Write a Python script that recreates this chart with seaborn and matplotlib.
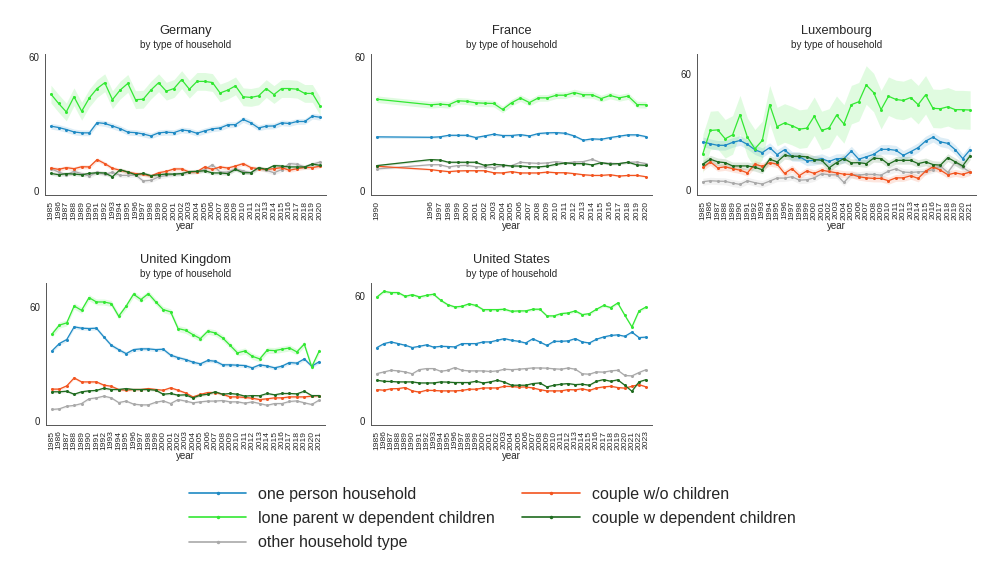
import numpy as np
import pandas as pd
import matplotlib
matplotlib.use('Agg')
import matplotlib.pyplot as plt
from matplotlib.lines import Line2D
import seaborn as sns

# ── Data (share of households, %) ─────────────────────────────
TYPES = ['one person household', 'lone parent w dependent children',
         'other household type', 'couple w/o children',
         'couple w dependent children']
COLORS = ['#1f8ac4', '#33e833', '#a9a9a9', '#f2541f', '#1f6b1f']

DE_YEARS = list(range(1985, 2021))
DE_ONE = [29.1, 28.5, 27.6, 26.5, 26.1, 26.1, 30.7, 30.3, 29.2, 28.0, 26.4, 26.2,
          25.6, 24.7, 26.1, 26.4, 26.2, 27.4, 27.0, 25.9, 27.0, 27.9, 28.3, 29.7,
          29.8, 32.1, 30.6, 28.3, 29.1, 29.2, 30.6, 30.3, 31.2, 31.2, 33.6, 33.1]
DE_LONE = [43.5, 39.3, 35.5, 42.3, 35.8, 41.8, 46.0, 48.6, 41.0, 45.3, 48.3, 41.0,
           41.2, 45.3, 48.6, 44.8, 46.0, 50.0, 45.7, 49.2, 49.2, 48.7, 44.0, 45.3,
           47.2, 42.3, 42.0, 42.7, 46.0, 43.3, 46.0, 46.0, 45.7, 43.8, 43.8, 38.1]
DE_OTHER = [10.0, 8.5, 7.3, 8.8, 7.8, 6.7, 8.5, 7.5, 8.4, 7.0, 7.0, 7.2,
            4.5, 4.8, 6.3, 7.0, 7.5, 7.8, 8.5, 8.8, 9.6, 11.8, 8.5, 8.5,
            10.0, 9.0, 8.2, 10.3, 9.3, 8.2, 9.6, 12.3, 12.0, 10.8, 12.0, 13.0]
DE_NOCH = [10.3, 9.7, 10.5, 10.0, 10.9, 10.8, 14.1, 12.3, 10.2, 9.3, 8.5, 7.8,
           7.5, 6.7, 8.2, 8.8, 9.9, 9.9, 8.5, 8.7, 10.8, 9.7, 10.8, 10.3,
           11.2, 12.3, 10.5, 10.0, 9.7, 10.0, 10.5, 9.3, 10.0, 10.6, 10.5, 11.1]
DE_WCH = [7.9, 7.3, 7.8, 7.6, 7.3, 7.9, 8.2, 8.1, 6.4, 9.6, 8.5, 7.3,
          7.9, 6.9, 7.3, 7.6, 7.6, 7.8, 8.7, 8.8, 9.1, 8.1, 8.1, 7.8,
          9.7, 8.2, 8.2, 10.5, 9.7, 11.4, 11.2, 10.8, 10.8, 10.8, 12.1, 11.5]
DE_CI = [1.3, 4.0, 1.0, 0.9, 0.8]

FR_YEARS = [1990] + list(range(1996, 2021))
FR_ONE = [24.3, 24.1, 24.3, 25.0, 25.0, 25.0, 24.0, 24.7, 25.5, 24.9, 24.9, 25.3,
          24.7, 25.8, 26.1, 26.2, 25.9, 24.7, 22.8, 23.4, 23.2, 24.0, 24.6, 25.2,
          25.2, 24.4]
FR_LONE = [41.2, 38.7, 39.0, 38.7, 40.5, 40.3, 39.6, 39.4, 39.3, 36.6, 39.6, 41.7,
           39.7, 41.8, 41.8, 43.0, 43.0, 44.2, 43.2, 43.2, 41.5, 42.9, 41.8, 42.6,
           38.8, 38.7]
FR_OTHER = [9.9, 11.8, 11.8, 10.8, 11.4, 11.5, 10.9, 10.8, 10.5, 11.4, 11.4, 12.9,
            12.6, 12.4, 12.6, 13.2, 12.6, 13.0, 13.2, 14.2, 12.7, 12.4, 12.3, 12.9,
            13.0, 12.3]
FR_NOCH = [11.1, 9.6, 9.1, 8.7, 9.0, 9.1, 9.1, 9.1, 8.2, 8.1, 8.7, 8.1,
           8.1, 8.1, 8.5, 8.2, 8.2, 7.8, 7.3, 7.0, 7.0, 7.3, 6.7, 7.0,
           7.0, 6.4]
FR_WCH = [11.4, 14.1, 13.9, 12.9, 12.9, 12.9, 12.9, 11.5, 12.0, 11.7, 11.2, 11.2,
          10.9, 10.8, 11.2, 12.0, 12.6, 12.3, 12.3, 11.7, 12.7, 12.1, 12.3, 12.9,
          11.7, 11.5]
FR_CI = [0.6, 1.5, 0.5, 0.4, 0.5]

LU_YEARS = list(range(1985, 2022))
LU_ONE = [25.0, 24.0, 23.2, 23.2, 24.7, 25.7, 23.7, 20.9, 19.4, 22.0, 18.4, 20.9,
          17.5, 17.3, 15.1, 15.4, 16.3, 14.8, 16.3, 16.3, 20.2, 16.0, 17.2, 18.5,
          21.1, 21.1, 20.6, 18.0, 19.9, 22.0, 25.4, 27.4, 25.0, 24.2, 20.9, 16.3,
          20.9]
LU_LONE = [18.9, 30.9, 31.2, 26.6, 28.6, 39.1, 27.4, 21.4, 25.7, 44.3, 32.9, 34.8,
           33.4, 31.6, 32.1, 38.3, 30.9, 32.2, 38.8, 34.3, 44.3, 45.8, 54.5, 50.6,
           41.7, 48.7, 47.0, 46.5, 48.0, 44.3, 49.4, 42.4, 42.2, 43.2, 41.7, 41.7,
           41.5]
LU_OTHER = [4.3, 4.8, 4.6, 4.5, 3.6, 2.9, 4.8, 3.8, 3.1, 4.6, 6.2, 6.2,
            6.9, 5.1, 5.3, 6.3, 8.4, 7.9, 7.9, 3.9, 8.1, 7.7, 8.2, 8.1,
            7.7, 9.8, 11.0, 9.3, 9.1, 9.4, 9.6, 10.6, 12.5, 9.1, 14.4, 11.7,
            9.3]
LU_NOCH = [11.7, 14.6, 11.5, 12.0, 11.1, 10.3, 8.9, 13.4, 12.3, 14.2, 13.4, 8.6,
           11.1, 7.5, 9.9, 8.6, 10.3, 9.6, 8.9, 8.2, 8.1, 6.9, 6.3, 6.0,
           6.0, 4.8, 6.3, 6.3, 7.4, 6.0, 9.8, 12.0, 10.3, 7.9, 8.9, 8.1,
           9.4]
LU_WCH = [13.4, 16.0, 14.6, 14.2, 12.5, 12.5, 12.5, 11.8, 10.5, 16.0, 14.6, 18.0,
          17.5, 17.5, 17.2, 15.8, 15.4, 11.5, 14.2, 16.3, 14.1, 14.2, 13.7, 16.5,
          16.3, 13.4, 15.4, 15.4, 15.4, 13.7, 14.6, 13.2, 12.9, 16.8, 14.6, 12.5,
          17.7]
LU_CI = [2.5, 10.0, 1.8, 1.8, 2.0]

UK_YEARS = list(range(1985, 2022))
UK_ONE = [36.8, 40.7, 42.8, 49.5, 48.8, 48.6, 48.8, 44.2, 39.8, 37.5, 35.4, 37.5,
          37.9, 37.9, 37.5, 37.7, 34.6, 33.3, 32.3, 30.9, 30.0, 31.8, 31.4, 29.5,
          29.5, 29.3, 29.1, 27.9, 29.5, 28.9, 27.9, 28.8, 30.7, 30.4, 32.6, 28.8,
          31.1]
UK_LONE = [45.6, 50.4, 51.6, 60.5, 58.2, 64.9, 62.6, 62.6, 61.8, 55.1, 60.4, 66.7,
           63.9, 67.0, 62.6, 58.6, 57.4, 48.6, 47.7, 45.4, 43.3, 47.2, 46.3, 43.7,
           39.8, 35.8, 36.8, 34.0, 32.6, 37.2, 37.0, 37.7, 38.4, 36.3, 40.4, 28.4,
           36.7]
UK_OTHER = [6.0, 6.3, 7.7, 8.1, 9.1, 11.6, 12.1, 13.0, 12.1, 9.6, 10.4, 8.8,
            8.4, 8.4, 9.8, 10.5, 9.1, 11.2, 10.4, 9.5, 10.0, 10.4, 10.4, 10.7,
            10.0, 10.0, 9.3, 10.0, 9.1, 8.2, 9.1, 9.1, 10.2, 10.5, 9.5, 8.6,
            10.9]
UK_NOCH = [16.7, 16.7, 18.4, 22.6, 20.5, 20.5, 20.5, 18.8, 18.2, 16.5, 16.1, 16.5,
           16.5, 17.0, 16.5, 16.1, 17.4, 16.1, 14.7, 12.6, 13.9, 14.9, 14.9, 14.0,
           12.6, 12.6, 12.3, 11.9, 11.2, 11.6, 12.1, 12.1, 12.6, 12.6, 12.6, 13.0,
           13.3]
UK_WCH = [15.3, 15.3, 15.6, 14.0, 15.3, 15.8, 16.0, 17.2, 16.5, 16.5, 17.0, 16.5,
          16.5, 16.5, 16.1, 14.0, 14.4, 13.5, 13.7, 12.1, 13.5, 14.0, 15.3, 14.0,
          14.4, 14.0, 13.0, 13.3, 13.2, 14.4, 13.7, 14.4, 14.4, 14.2, 15.6, 13.3,
          13.3]
UK_CI = [1.0, 1.6, 0.6, 0.7, 0.6]

US_YEARS = list(range(1985, 2024))
US_ONE = [35.2, 37.1, 37.9, 37.1, 36.3, 35.2, 35.8, 36.5, 35.4, 35.8, 35.7, 35.5,
          37.1, 37.1, 37.1, 37.9, 37.9, 38.7, 39.5, 38.7, 38.2, 37.4, 39.4, 37.9,
          36.2, 38.2, 38.2, 38.4, 39.5, 37.9, 37.4, 39.2, 40.3, 41.0, 41.3, 40.6,
          42.6, 40.0, 40.2]
US_LONE = [59.5, 62.2, 61.6, 61.6, 59.8, 60.6, 59.5, 60.3, 60.8, 57.9, 55.8, 54.7,
           55.0, 56.2, 55.4, 53.4, 53.4, 53.4, 53.6, 52.6, 52.8, 52.8, 53.6, 53.6,
           50.4, 50.4, 51.5, 51.8, 52.8, 51.0, 51.5, 53.6, 55.4, 54.4, 56.6, 50.7,
           45.1, 52.8, 54.7]
US_OTHER = [22.7, 23.5, 24.3, 24.0, 23.5, 22.6, 24.6, 25.1, 25.1, 23.8, 24.3, 25.6,
            24.3, 24.0, 24.0, 24.0, 23.7, 24.0, 24.8, 24.6, 24.8, 25.1, 25.4, 25.4,
            25.3, 25.0, 24.8, 25.4, 24.8, 22.6, 22.4, 23.5, 23.4, 24.0, 24.3, 21.8,
            21.6, 23.2, 24.6]
US_NOCH = [15.0, 14.7, 15.4, 15.5, 16.0, 14.4, 13.8, 14.7, 14.6, 14.4, 14.4, 14.4,
           14.6, 15.2, 15.2, 15.8, 15.8, 15.8, 16.6, 16.5, 16.2, 16.3, 15.8, 15.0,
           14.4, 14.4, 14.4, 15.0, 14.9, 15.4, 14.6, 15.8, 16.3, 16.6, 16.0, 15.7,
           16.6, 17.4, 16.3]
US_WCH = [19.5, 19.0, 18.9, 18.7, 18.7, 18.7, 18.2, 18.2, 18.2, 18.7, 18.6, 18.4,
          18.4, 18.4, 19.0, 18.2, 18.7, 19.5, 18.6, 17.1, 17.1, 17.1, 17.9, 18.2,
          16.3, 17.1, 17.6, 17.9, 17.4, 17.6, 17.1, 19.0, 19.8, 19.0, 19.7, 17.1,
          14.2, 18.7, 19.8]
US_CI = [0.5, 0.7, 0.4, 0.4, 0.4]

PANELS = [
    ('Germany', DE_YEARS, [DE_ONE, DE_LONE, DE_OTHER, DE_NOCH, DE_WCH], DE_CI, (-1.8, 61.5)),
    ('France', FR_YEARS, [FR_ONE, FR_LONE, FR_OTHER, FR_NOCH, FR_WCH], FR_CI, (-1.8, 61.5)),
    ('Luxembourg', LU_YEARS, [LU_ONE, LU_LONE, LU_OTHER, LU_NOCH, LU_WCH], LU_CI, (-2.6, 70.6)),
    ('United Kingdom', UK_YEARS, [UK_ONE, UK_LONE, UK_OTHER, UK_NOCH, UK_WCH], UK_CI, (-2.2, 72.6)),
    ('United States', US_YEARS, [US_ONE, US_LONE, US_OTHER, US_NOCH, US_WCH], US_CI, (-2.0, 66.2)),
]

# ── Style ─────────────────────────────────────────────────────
sns.set_theme(style='white')
plt.rcParams['font.family'] = ['Liberation Sans', 'DejaVu Sans']

W, H = 1000, 574
fig = plt.figure(figsize=(W / 100, H / 100), dpi=100)

# axes boxes in pixels: (left, top, width, height)
BOXES = [(45, 54, 281, 141), (371, 54, 281, 141), (697, 54, 279, 141),
         (46, 283, 279, 142), (371, 283, 281, 142)]

palette = dict(zip(TYPES, COLORS))

for (name, years, series, ci, ylim), (l, t, w, h) in zip(PANELS, BOXES):
    ax = fig.add_axes([l / W, 1 - (t + h) / H, w / W, h / H])
    df = pd.DataFrame({
        'year': np.tile(years, len(TYPES)),
        'type': np.repeat(TYPES, len(years)),
        'value': np.concatenate(series),
    })
    for typ, vals, hw in zip(TYPES, series, ci):
        v = np.array(vals)
        ax.fill_between(years, v - hw, v + hw, color=palette[typ],
                        alpha=0.15, linewidth=0)
    sns.lineplot(data=df, x='year', y='value', hue='type', hue_order=TYPES,
                 palette=palette, marker='o', markersize=2.2,
                 markeredgewidth=0, linewidth=0.9, legend=False,
                 errorbar=None, ax=ax)

    span = years[-1] - years[0]
    ax.set_xlim(years[0] - 0.022 * span, years[-1] + 0.022 * span)
    ax.set_ylim(*ylim)
    ax.set_yticks([0, 60])
    ax.set_yticklabels(['0', '60'], fontsize=7)
    ax.set_xticks(years)
    ax.set_xticklabels([str(y) for y in years], rotation=90, fontsize=6.1)
    ax.tick_params(axis='both', length=2.5, width=0.6, color='#444444', pad=1.5)
    ax.set_xlabel('year', fontsize=7, labelpad=1)
    ax.set_ylabel('')
    sns.despine(ax=ax)
    for s in ('left', 'bottom'):
        ax.spines[s].set_color('#555555')
        ax.spines[s].set_linewidth(0.7)

    cx = (l + w / 2) / W
    fig.text(cx, 1 - (t - 23) / H, name, ha='center', va='center', fontsize=9.2)
    fig.text(cx, 1 - (t - 9) / H, 'by type of household', ha='center',
             va='center', fontsize=7.1)

# ── Legend ────────────────────────────────────────────────────
handles = [Line2D([0], [0], color=c, lw=1.2, marker='o', markersize=2.5,
                  markeredgewidth=0) for c in COLORS]
fig.legend(handles, TYPES, loc='upper left', bbox_to_anchor=(184 / W, 1 - 482 / H),
           ncol=2, frameon=False, fontsize=11.5, handlelength=3.6,
           handletextpad=0.75, columnspacing=1.7, labelspacing=0.58,
           borderaxespad=0, borderpad=0.3)

plt.savefig('out.png', dpi=100)
